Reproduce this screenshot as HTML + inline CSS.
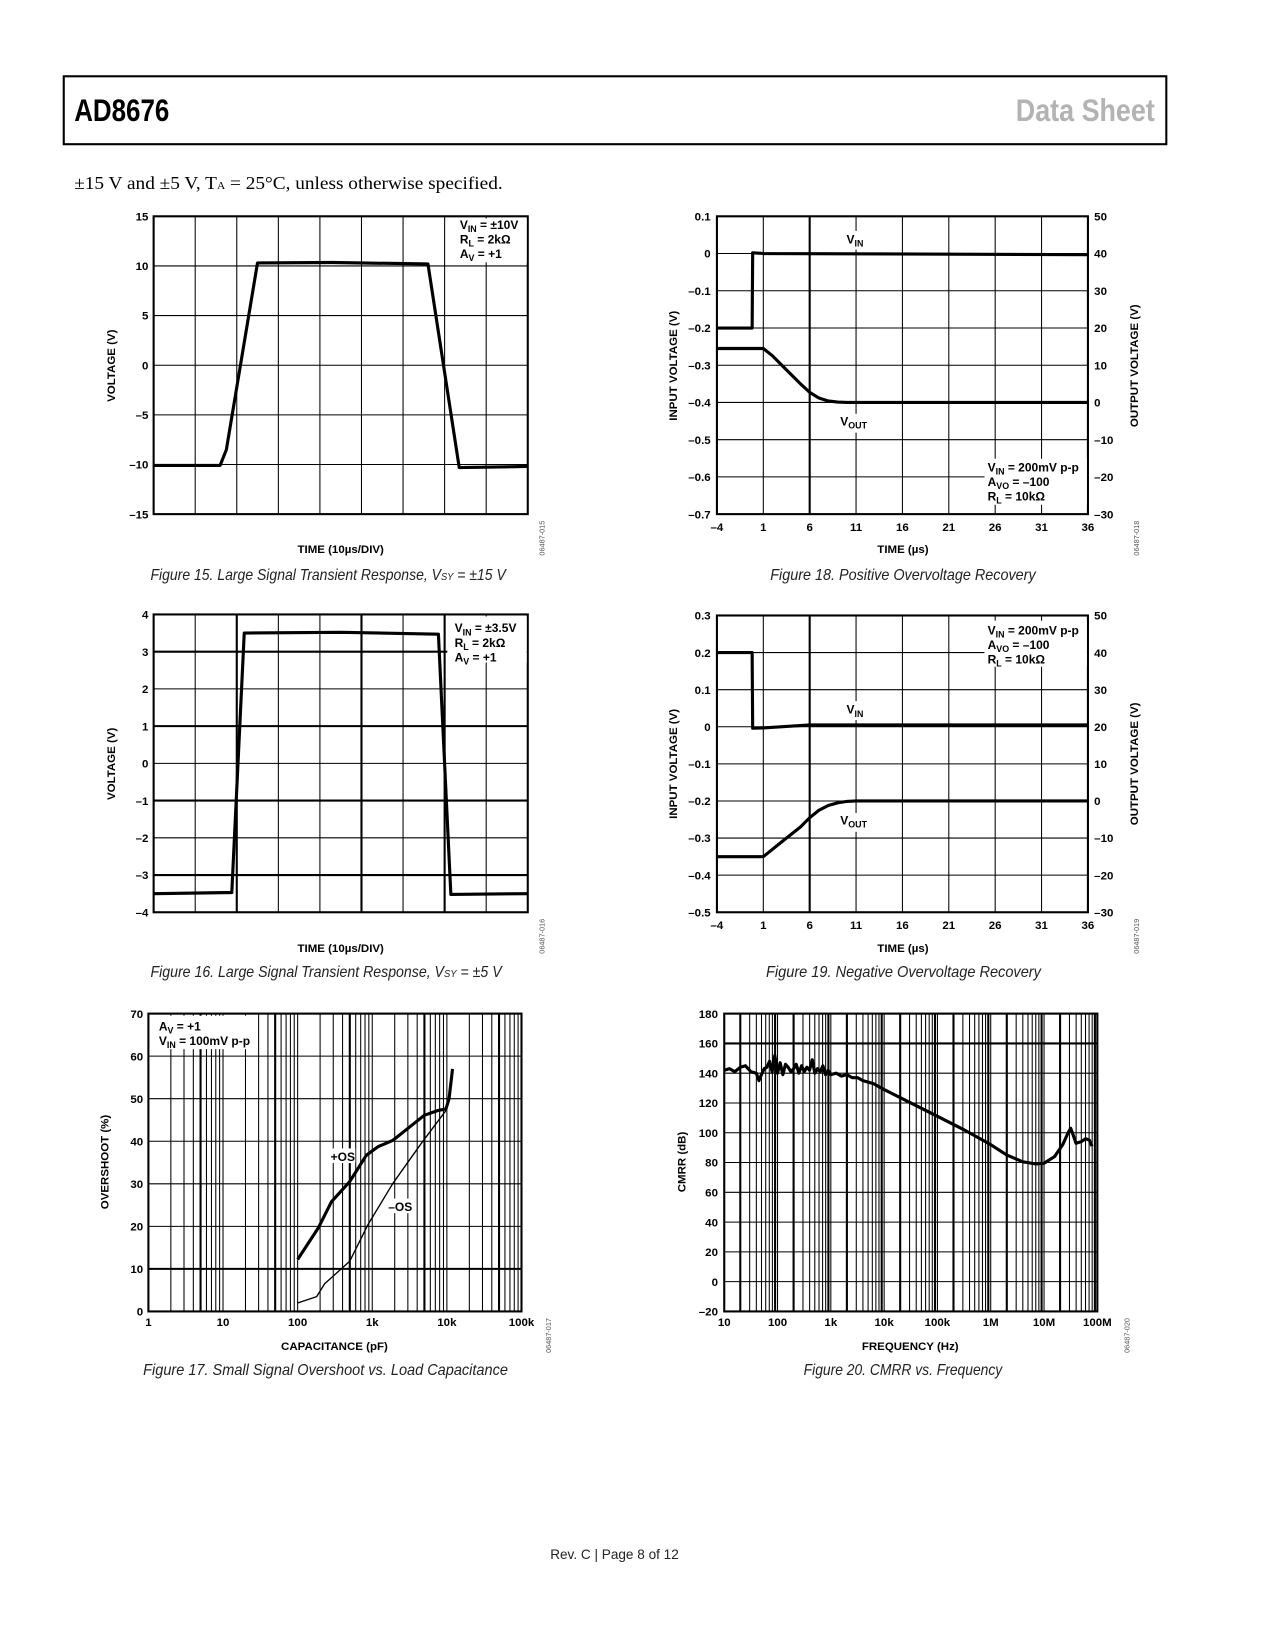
<!DOCTYPE html>
<html><head><meta charset="utf-8"><style>
html,body{margin:0;padding:0;background:#fff}
svg{display:block}
text{font-family:"Liberation Sans",Arial,sans-serif}
.tk{font-size:11px;font-weight:bold;fill:#000}
.ax{font-size:11px;font-weight:bold;fill:#000}
.cap{font-size:15px;font-style:italic;fill:#222}
.id{font-size:7px;fill:#555}
.an{font-size:11.5px;font-weight:bold;fill:#000}
.sb{font-size:8.5px}
</style></head><body>
<svg id="page" width="1275" height="1650" viewBox="0 0 1220 1579" preserveAspectRatio="none" xmlns="http://www.w3.org/2000/svg">
<rect x="61" y="73" width="1055" height="65" fill="none" stroke="#000" stroke-width="2"/>
<text x="71" y="116" font-size="30" font-weight="bold" textLength="91" lengthAdjust="spacingAndGlyphs">AD8676</text>
<text x="972" y="116" font-size="30" font-weight="bold" textLength="133" lengthAdjust="spacingAndGlyphs" fill="#b3b3b3">Data Sheet</text>
<text x="71" y="181" font-size="17" textLength="410" lengthAdjust="spacingAndGlyphs" style="font-family:'Liberation Serif',serif">±15 V and ±5 V, T<tspan font-size="10">A</tspan> = 25°C, unless otherwise specified.</text>

<!-- captions -->
<text class="cap" x="144" y="555" textLength="340" lengthAdjust="spacingAndGlyphs">Figure 15. Large Signal Transient Response, V<tspan font-size="10">SY</tspan> = ±15 V</text>
<text class="cap" x="144" y="935" textLength="336" lengthAdjust="spacingAndGlyphs">Figure 16. Large Signal Transient Response, V<tspan font-size="10">SY</tspan> = ±5 V</text>
<text class="cap" x="137" y="1316" textLength="349" lengthAdjust="spacingAndGlyphs">Figure 17. Small Signal Overshoot vs. Load Capacitance</text>
<text class="cap" x="737" y="555" textLength="254" lengthAdjust="spacingAndGlyphs">Figure 18. Positive Overvoltage Recovery</text>
<text class="cap" x="733" y="935" textLength="263" lengthAdjust="spacingAndGlyphs">Figure 19. Negative Overvoltage Recovery</text>
<text class="cap" x="769" y="1316" textLength="190" lengthAdjust="spacingAndGlyphs">Figure 20. CMRR vs. Frequency</text>
<text x="588" y="1492" font-size="13" text-anchor="middle" fill="#222">Rev. C | Page 8 of 12</text>

<!-- axis titles -->
<text class="ax" x="326" y="529" text-anchor="middle">TIME (10µs/DIV)</text>
<text class="ax" transform="translate(110,350) rotate(-90)" text-anchor="middle">VOLTAGE (V)</text>
<text class="ax" x="326" y="911" text-anchor="middle">TIME (10µs/DIV)</text>
<text class="ax" transform="translate(110,731) rotate(-90)" text-anchor="middle">VOLTAGE (V)</text>
<text class="ax" x="320" y="1292" text-anchor="middle">CAPACITANCE (pF)</text>
<text class="ax" transform="translate(104,1112) rotate(-90)" text-anchor="middle">OVERSHOOT (%)</text>
<text class="ax" x="864" y="529" text-anchor="middle">TIME (µs)</text>
<text class="ax" transform="translate(648,350) rotate(-90)" text-anchor="middle">INPUT VOLTAGE (V)</text>
<text class="ax" transform="translate(1089,350) rotate(-90)" text-anchor="middle">OUTPUT VOLTAGE (V)</text>
<text class="ax" x="864" y="911" text-anchor="middle">TIME (µs)</text>
<text class="ax" transform="translate(648,731) rotate(-90)" text-anchor="middle">INPUT VOLTAGE (V)</text>
<text class="ax" transform="translate(1089,731) rotate(-90)" text-anchor="middle">OUTPUT VOLTAGE (V)</text>
<text class="ax" x="871" y="1292" text-anchor="middle">FREQUENCY (Hz)</text>
<text class="ax" transform="translate(656,1112) rotate(-90)" text-anchor="middle">CMRR (dB)</text>

<!-- figure ids -->
<text class="id" transform="translate(521,515) rotate(-90)" text-anchor="middle">06487-015</text>
<text class="id" transform="translate(521,896) rotate(-90)" text-anchor="middle">06487-016</text>
<text class="id" transform="translate(527,1278) rotate(-90)" text-anchor="middle">06487-017</text>
<text class="id" transform="translate(1090,515) rotate(-90)" text-anchor="middle">06487-018</text>
<text class="id" transform="translate(1090,896) rotate(-90)" text-anchor="middle">06487-019</text>
<text class="id" transform="translate(1081,1278) rotate(-90)" text-anchor="middle">06487-020</text>

<g id="plots"></g>
<g id="notes">
<rect x="428" y="209" width="76" height="42" fill="#fff"/>
<text class="an" x="440" y="219">V<tspan class="sb" dy="3">IN</tspan><tspan dy="-3"> = ±10V</tspan></text>
<text class="an" x="440" y="233">R<tspan class="sb" dy="3">L</tspan><tspan dy="-3"> = 2kΩ</tspan></text>
<text class="an" x="440" y="247">A<tspan class="sb" dy="3">V</tspan><tspan dy="-3"> = +1</tspan></text>
<rect x="428" y="590" width="76" height="44" fill="#fff"/>
<text class="an" x="435" y="605">V<tspan class="sb" dy="3">IN</tspan><tspan dy="-3"> = ±3.5V</tspan></text>
<text class="an" x="435" y="619">R<tspan class="sb" dy="3">L</tspan><tspan dy="-3"> = 2kΩ</tspan></text>
<text class="an" x="435" y="633">A<tspan class="sb" dy="3">V</tspan><tspan dy="-3"> = +1</tspan></text>
<rect x="145" y="972" width="100" height="32" fill="#fff"/>
<text class="an" x="152" y="986">A<tspan class="sb" dy="3">V</tspan><tspan dy="-3"> = +1</tspan></text>
<text class="an" x="152" y="1000">V<tspan class="sb" dy="3">IN</tspan><tspan dy="-3"> = 100mV p-p</tspan></text>
<rect x="316" y="1099" width="24" height="14" fill="#fff"/>
<text class="an" x="328" y="1111" text-anchor="middle">+OS</text>
<rect x="370" y="1147" width="26" height="14" fill="#fff"/>
<text class="an" x="383" y="1159" text-anchor="middle">–OS</text>
<rect x="806" y="221" width="26" height="18" fill="#fff"/>
<text class="an" x="810" y="233">V<tspan class="sb" dy="3">IN</tspan></text>
<rect x="802" y="396" width="34" height="18" fill="#fff"/>
<text class="an" x="804" y="407">V<tspan class="sb" dy="3">OUT</tspan></text>
<rect x="942" y="439" width="98" height="44" fill="#fff"/>
<text class="an" x="945" y="451">V<tspan class="sb" dy="3">IN</tspan><tspan dy="-3"> = 200mV p-p</tspan></text>
<text class="an" x="945" y="465">A<tspan class="sb" dy="3">VO</tspan><tspan dy="-3"> = –100</tspan></text>
<text class="an" x="945" y="479">R<tspan class="sb" dy="3">L</tspan><tspan dy="-3"> = 10kΩ</tspan></text>
<rect x="942" y="594" width="98" height="44" fill="#fff"/>
<text class="an" x="945" y="607">V<tspan class="sb" dy="3">IN</tspan><tspan dy="-3"> = 200mV p-p</tspan></text>
<text class="an" x="945" y="621">A<tspan class="sb" dy="3">VO</tspan><tspan dy="-3"> = –100</tspan></text>
<text class="an" x="945" y="635">R<tspan class="sb" dy="3">L</tspan><tspan dy="-3"> = 10kΩ</tspan></text>
<rect x="806" y="671" width="26" height="18" fill="#fff"/>
<text class="an" x="810" y="683">V<tspan class="sb" dy="3">IN</tspan></text>
<rect x="802" y="778" width="34" height="18" fill="#fff"/>
<text class="an" x="804" y="789">V<tspan class="sb" dy="3">OUT</tspan></text>
</g>
<g id="curves"></g>
</svg>
<script>
// ---- data ----
const fig15Time=[0,1.6,1.75,2.5,4.3,6.6,7.35,9];
const fig15Volt=[-10.1,-10.1,-8.5,10.3,10.35,10.2,-10.3,-10.2];
const fig15YTicks=[15,10,5,0,-5,-10,-15];
const fig15YLabels=['15','10','5','0','–5','–10','–15'];
const fig16Time=[0,1.88,2.18,4.5,6.85,7.15,9];
const fig16Volt=[-3.5,-3.47,3.5,3.52,3.47,-3.52,-3.5];
const fig16YTicks=[4,3,2,1,0,-1,-2,-3,-4];
const fig16YLabels=['4','3','2','1','0','–1','–2','–3','–4'];
const fig17PosCap=[100,189,284,499,832,1191,1888,2990,4990,7510,9700,10700,11900];
const fig17PosOS=[12.2,19.6,25.8,30.5,36.7,38.7,40.2,43,46.1,47.2,47.6,50,57];
const fig17NegCap=[100,180,230,299,499,875,1888,4500,9700];
const fig17NegOS=[2,3.5,6.5,8.3,11.8,20.4,30.1,39.4,47.2];
const fig17YTicks=[0,10,20,30,40,50,60,70];
const fig17XTicks=[1,10,100,1000,10000,100000];
const fig17XLabels=['1','10','100','1k','10k','100k'];
const fig18VinTime=[-4,-0.2,-0.15,1,36];
const fig18VinVal=[-0.2,-0.2,0.002,0,-0.003];
const fig18VoutTime=[-4,1,2,3,4,5,6,7,8,9,10,36];
const fig18VoutVal=[14.5,14.5,12.5,10,7.5,5,2.7,1.2,0.4,0.1,0,0];
const fig19VinTime=[-4,-0.2,-0.15,1,6,36];
const fig19VinVal=[0.2,0.2,-0.004,-0.003,0.005,0.005];
const fig19VoutTime=[-4,1,3,5,6,7,8,9,10,11,36];
const fig19VoutVal=[-15,-15,-11,-7,-4.5,-2.5,-1.2,-0.5,-0.1,0,0];
const timeTicks=[-4,1,6,11,16,21,26,31,36];
const fig18LeftTicks=[0.1,0,-0.1,-0.2,-0.3,-0.4,-0.5,-0.6,-0.7];
const fig18LeftLabels=['0.1','0','–0.1','–0.2','–0.3','–0.4','–0.5','–0.6','–0.7'];
const fig19LeftTicks=[0.3,0.2,0.1,0,-0.1,-0.2,-0.3,-0.4,-0.5];
const fig19LeftLabels=['0.3','0.2','0.1','0','–0.1','–0.2','–0.3','–0.4','–0.5'];
const rightTicks=[50,40,30,20,10,0,-10,-20,-30];
const rightLabels=['50','40','30','20','10','0','–10','–20','–30'];
const fig20Freq=[10,12.6,15.8,20,25,31.6,40,44.7,50,56,63,70.8,79,89,100,112,126,141,158,178,200,224,251,282,316,355,398,447,501,562,631,708,794,891,1000,1260,1580,2000,2510,3160,4000,6300,10000,31600,100000,316000,1000000,2000000,4000000,7100000,10000000,15800000,22400000,28200000,31600000,35500000,39800000,50100000,60300000,70800000,79400000];
const fig20CMRR=[142,143,141,144,145,141,140,135,139,143,144,148,141,152,140,147,139,146,144,141,143,146,140,145,141,144,142,149,140,143,141,145,139,142,139,140,138,139,137,137,135,133,129,120,111,102,92,85,80.5,79,79.5,84,92,100,103,98,93,94,96,95,91];
const fig20YTicks=[180,160,140,120,100,80,60,40,20,0,-20];
const fig20YLabels=['180','160','140','120','100','80','60','40','20','0','–20'];
const fig20XTicks=[10,100,1000,10000,100000,1000000,10000000,100000000];
const fig20XLabels=['10','100','1k','10k','100k','1M','10M','100M'];

// ---- helpers ----
const NS='http://www.w3.org/2000/svg';
const plots=document.getElementById('plots');
const curves=document.getElementById('curves');
function mk(tag,parent){const e=document.createElementNS(NS,tag);parent.appendChild(e);return e;}
function lin(v,a,b,p,q){return p+(v-a)/(b-a)*(q-p);}
function logs(v,a,b,p,q){return p+(Math.log10(v)-Math.log10(a))/(Math.log10(b)-Math.log10(a))*(q-p);}
function line(x1,y1,x2,y2,w,name){
  const l=mk('line',plots);
  l.setAttribute('x1',x1);l.setAttribute('y1',y1);l.setAttribute('x2',x2);l.setAttribute('y2',y2);
  l.setAttribute('stroke','#000');l.setAttribute('stroke-width',w);
  
  
}
function label(x,y,s,anchor,name){
  const t=mk('text',plots);
  t.setAttribute('x',x);t.setAttribute('y',y);t.setAttribute('class','tk');t.setAttribute('text-anchor',anchor);
  t.textContent=s;
  
  
}
function frame(c,name){
  const r=mk('rect',plots);
  r.setAttribute('x',c.x0);r.setAttribute('y',c.y0);r.setAttribute('width',c.x1-c.x0);r.setAttribute('height',c.y1-c.y0);
  r.setAttribute('fill','none');r.setAttribute('stroke','#000');r.setAttribute('stroke-width',2);
  
  
}
function curve(xs,ys,fx,fy,w,name){
  let d='';
  for(let i=0;i<xs.length;i++){d+=(i?'L':'M')+fx(xs[i]).toFixed(1)+' '+fy(ys[i]).toFixed(1);}
  const p=mk('path',curves);
  p.setAttribute('d',d);p.setAttribute('fill','none');p.setAttribute('stroke','#000');
  p.setAttribute('stroke-width',w);p.setAttribute('stroke-linejoin','round');
  
  
}

// ---- Fig 15 ----
(function(){
  const c={x0:147,x1:505,y0:207,y1:492};
  const fx=v=>lin(v,0,9,c.x0,c.x1), fy=v=>lin(v,-15,15,c.y1,c.y0);
  for(let i=1;i<9;i++) line(fx(i),c.y0,fx(i),c.y1,1,'fig15-vgrid');
  fig15YTicks.forEach((t,i)=>{line(c.x0,fy(t),c.x1,fy(t),1,'fig15-hgrid');label(c.x0-5,fy(t)+4,fig15YLabels[i],'end','fig15-y-tick');});
  frame(c,'fig15-plot-frame');
  curve(fig15Time,fig15Volt,fx,fy,3,'fig15-voltage-trace');
})();
// ---- Fig 16 ----
(function(){
  const c={x0:147,x1:505,y0:588,y1:873};
  const fx=v=>lin(v,0,9,c.x0,c.x1), fy=v=>lin(v,-4,4,c.y1,c.y0);
  for(let i=1;i<9;i++) line(fx(i),c.y0,fx(i),c.y1,(i==2||i==5||i==7)?2:1,'fig16-vgrid');
  fig16YTicks.forEach((t,i)=>{line(c.x0,fy(t),c.x1,fy(t),(t%2)?2:1,'fig16-hgrid');label(c.x0-5,fy(t)+4,fig16YLabels[i],'end','fig16-y-tick');});
  frame(c,'fig16-plot-frame');
  curve(fig16Time,fig16Volt,fx,fy,3,'fig16-voltage-trace');
})();
// ---- Fig 17 ----
(function(){
  const c={x0:142,x1:499,y0:970,y1:1255};
  const fx=v=>logs(v,1,100000,c.x0,c.x1), fy=v=>lin(v,0,70,c.y1,c.y0);
  for(let d=1;d<100000;d*=10) for(let n=2;n<=9;n++) line(fx(n*d),c.y0,fx(n*d),c.y1,n==5?2:1,'fig17-vgrid');
  fig17XTicks.forEach((t,i)=>{line(fx(t),c.y0,fx(t),c.y1,1,'fig17-decade-grid');label(fx(t),1269,fig17XLabels[i],'middle','fig17-x-tick');});
  fig17YTicks.forEach(t=>{line(c.x0,fy(t),c.x1,fy(t),t==10?2:1,'fig17-hgrid');label(c.x0-5,fy(t)+4,String(t),'end','fig17-y-tick');});
  frame(c,'fig17-plot-frame');
  curve(fig17PosCap,fig17PosOS,fx,fy,3,'fig17-positive-overshoot');
  curve(fig17NegCap,fig17NegOS,fx,fy,1.3,'fig17-negative-overshoot');
})();
// ---- Fig 18 / 19 ----
function recovery(c,pre,leftMin,leftMax,leftTicks,leftLabels,vinT,vinV,voutT,voutV){
  const fx=v=>lin(v,-4,36,c.x0,c.x1), fl=v=>lin(v,leftMin,leftMax,c.y1,c.y0), fr=v=>lin(v,-30,50,c.y1,c.y0);
  timeTicks.forEach(t=>{line(fx(t),c.y0,fx(t),c.y1,t==6?2:1,pre+'-vgrid');label(fx(t),c.y1+16,t<0?'–'+(-t):String(t),'middle',pre+'-x-tick');});
  leftTicks.forEach((t,i)=>{line(c.x0,fl(t),c.x1,fl(t),1,pre+'-hgrid');label(c.x0-6,fl(t)+4,leftLabels[i],'end',pre+'-y-left-tick');});
  rightTicks.forEach((t,i)=>{label(c.x1+6,fr(t)+4,rightLabels[i],'start',pre+'-y-right-tick');});
  frame(c,pre+'-plot-frame');
  curve(vinT,vinV,fx,fl,3,pre+'-vin-trace');
  curve(voutT,voutV,fx,fr,3,pre+'-vout-trace');
}
recovery({x0:686,x1:1041,y0:207,y1:492},'fig18',-0.7,0.1,fig18LeftTicks,fig18LeftLabels,fig18VinTime,fig18VinVal,fig18VoutTime,fig18VoutVal);
recovery({x0:686,x1:1041,y0:589,y1:873},'fig19',-0.5,0.3,fig19LeftTicks,fig19LeftLabels,fig19VinTime,fig19VinVal,fig19VoutTime,fig19VoutVal);
// ---- Fig 20 ----
(function(){
  const c={x0:693,x1:1050,y0:970,y1:1255};
  const fx=v=>logs(v,10,100000000,c.x0,c.x1), fy=v=>lin(v,-20,180,c.y1,c.y0);
  for(let d=10;d<100000000;d*=10) for(let n=2;n<=9;n++) line(fx(n*d),c.y0,fx(n*d),c.y1,(n==2||n==9)?2:1,'fig20-vgrid');
  fig20XTicks.forEach((t,i)=>{line(fx(t),c.y0,fx(t),c.y1,1,'fig20-decade-grid');label(fx(t),1269,fig20XLabels[i],'middle','fig20-x-tick');});
  fig20YTicks.forEach((t,i)=>{line(c.x0,fy(t),c.x1,fy(t),t==160?2:1,'fig20-hgrid');label(c.x0-6,fy(t)+4,fig20YLabels[i],'end','fig20-y-tick');});
  frame(c,'fig20-plot-frame');
  curve(fig20Freq,fig20CMRR,fx,fy,3,'fig20-cmrr-trace');
})();
</script>
</body></html>
